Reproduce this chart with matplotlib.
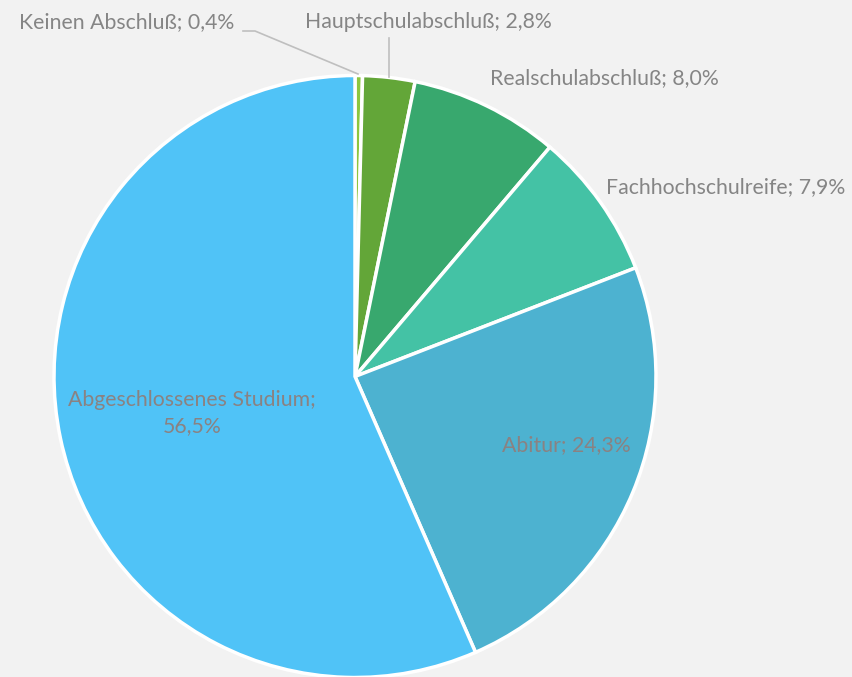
import matplotlib
matplotlib.use("Agg")
import matplotlib.pyplot as plt

categories = ["Keinen Abschluß", "Hauptschulabschluß", "Realschulabschluß",
              "Fachhochschulreife", "Abitur", "Abgeschlossenes Studium"]
values = [0.4, 2.8, 8.0, 7.9, 24.3, 56.5]
colors = ["#8CC63F", "#63A638", "#38A86E", "#44C2A5", "#4DB2D0", "#50C3F7"]

W, H = 852, 677
CX, CY, R = 355, 376.5, 301

def px(x, y):
    return ((x - CX) / R, (CY - y) / R)

fig = plt.figure(figsize=(W / 100, H / 100), dpi=100, facecolor="#F2F2F2")
ax = fig.add_axes([0, 0, 1, 1])
ax.set_facecolor("#F2F2F2")
ax.pie(values, colors=colors, startangle=90, counterclock=False,
       wedgeprops=dict(edgecolor="white", linewidth=2.5), radius=1.0)
ax.set_xlim(-CX / R, (W - CX) / R)
ax.set_ylim(-(H - CY) / R, CY / R)
ax.set_aspect("equal")
ax.axis("off")

font = dict(family=["Lato", "DejaVu Sans"], fontsize=15.3, color="#858585")
font_in = dict(font, color="#8A8282")

def lab(i):
    return f"{categories[i]}; {values[i]:.1f}%".replace(".", ",")

ax.text(*px(127, 22), lab(0), ha="center", va="center", **font)
ax.text(*px(428, 22), lab(1), ha="center", va="center", **font)
ax.text(*px(604, 78), lab(2), ha="center", va="center", **font)
ax.text(*px(726, 187), lab(3), ha="center", va="center", **font)
ax.text(*px(566, 445), lab(4), ha="center", va="center", **font_in)
ax.text(*px(192, 413), f"{categories[5]};\n{values[5]:.1f}%".replace(".", ","),
        ha="center", va="center", linespacing=1.35, **font_in)

# leader lines
x0, y0 = px(243, 31)
x1, y1 = px(255, 31)
x2, y2 = px(358, 74)
ax.plot([x0, x1, x2], [y0, y1, y2], color="#BFBFBF", lw=1.2)
x0, y0 = px(389, 38)
x1, y1 = px(389, 77)
ax.plot([x0, x1], [y0, y1], color="#BFBFBF", lw=1.2)

fig.savefig("out.png", dpi=100, facecolor=fig.get_facecolor())
